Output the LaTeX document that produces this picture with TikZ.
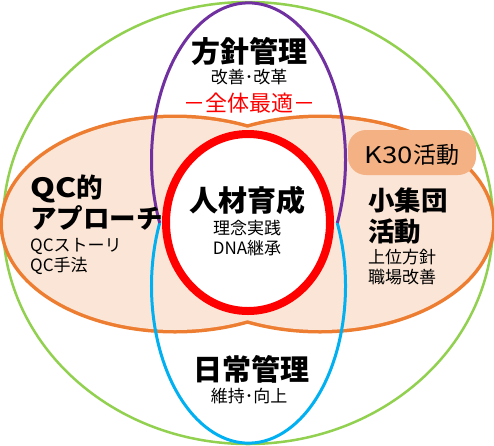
\documentclass[tikz,border=0pt]{standalone}
\usepackage{fontspec}
\setmainfont{Noto Sans CJK JP}
\usepackage{graphicx}
\definecolor{cgreen}{HTML}{92D050}
\definecolor{cpurple}{HTML}{7030A0}
\definecolor{cblue}{HTML}{00B0F0}
\definecolor{cred}{HTML}{FF0000}
\definecolor{corange}{HTML}{ED7D31}
\definecolor{clight}{HTML}{FBE5D6}
\definecolor{cbox}{HTML}{F4B183}
\newcommand{\widelat}[1]{\scalebox{1.2}[1]{#1}}
\begin{document}
\begin{tikzpicture}[x=1pt,y=-1pt,
  title/.style={inner sep=0pt,font=\fontsize{29}{34}\selectfont\bfseries},
  side/.style={inner sep=0pt,anchor=west,font=\fontsize{26.5}{32}\selectfont\bfseries},
  sub/.style={inner sep=0pt,font=\fontsize{17}{20}\selectfont},
  subw/.style={sub,anchor=west}]
\useasboundingbox (0,0) rectangle (494,445);
\fill[white] (0,0) rectangle (494,445);
% outer green
\draw[cgreen,line width=2.5pt] (248,223) ellipse [x radius=245,y radius=221];
% orange union
\draw[corange,line width=7pt] (175,224) ellipse [x radius=172,y radius=106];
\draw[corange,line width=7pt] (320,224) ellipse [x radius=172,y radius=106];
\fill[clight] (175,224) ellipse [x radius=172,y radius=106];
\fill[clight] (320,224) ellipse [x radius=172,y radius=106];
% vertical ellipses (visible halves only)
\coordinate (bstart) at (337.3,223);
\coordinate (pstart) at (159.7,223);
\draw[cblue,line width=3pt] (bstart) arc[start angle=-23.7,end angle=203.7,x radius=97,y radius=157];
\draw[cpurple,line width=3pt] (pstart) arc[start angle=156.3,end angle=383.7,x radius=97,y radius=157];
% centre ring
\draw[cred,fill=white,line width=8pt] (248,222.5) ellipse [x radius=82,y radius=88.5];
% K30 box
\node[fill=cbox,rounded corners=18pt,minimum width=128pt,minimum height=45pt,inner sep=0pt] (k30box) at (412,152.5) {};
\node[inner sep=0pt,font=\fontsize{23}{27}\selectfont] (k30) at (412,155) {\widelat{K30}活動};
% texts
\node[title] (hoshin) at (249,51) {方針管理};
\node[sub] (kaizen) at (249,77) {改善･改革};
\node[inner sep=0pt,text=cred,font=\fontsize{22}{26}\selectfont] (zentai) at (249,103) {－全体最適－};
\node[title] (jinzai) at (247,200) {人材育成};
\node[sub] (rinen) at (247,228) {理念実践};
\node[sub] (dna) at (247,248) {DNA継承};
\node[title] (nichijo) at (251,369) {日常管理};
\node[sub] (iji) at (249,396) {維持･向上};
\node[side] (qc1) at (30,189) {\widelat{QC}的};
\node[side] (qc2) at (30,218) {アプローチ};
\node[subw] (qc3) at (30,246) {QCストーリ};
\node[subw] (qc4) at (30,266) {QC手法};
\node[side] (sh1) at (368,200) {小集団};
\node[side] (sh2) at (368,232) {活動};
\node[subw] (sh3) at (368,257) {上位方針};
\node[subw] (sh4) at (368,277) {職場改善};
\end{tikzpicture}
\end{document}
